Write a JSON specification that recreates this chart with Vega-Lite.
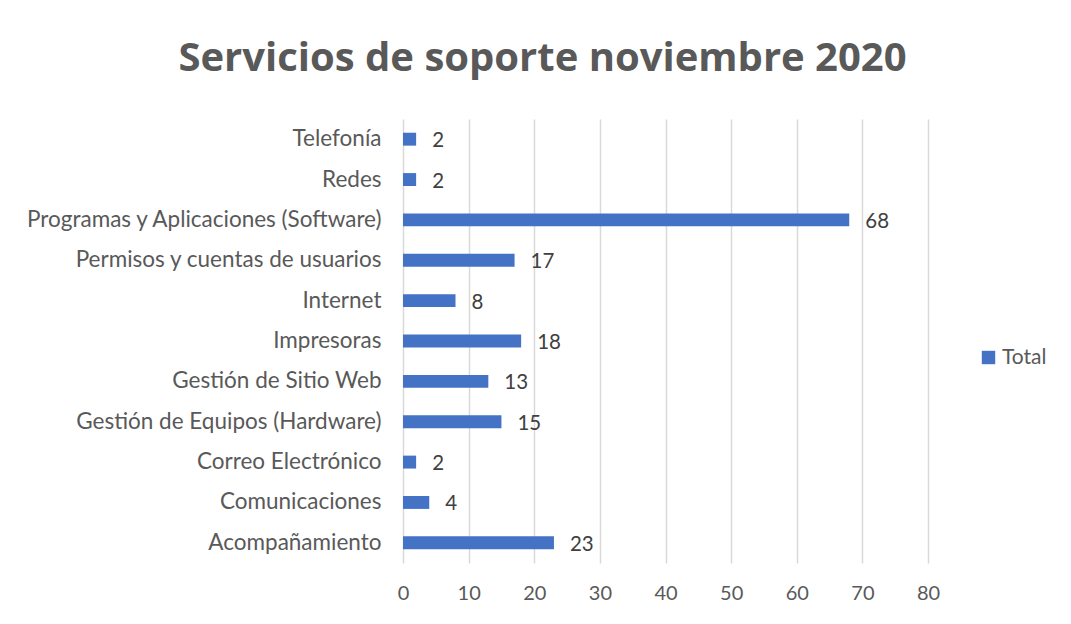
{
  "$schema": "https://vega.github.io/schema/vega-lite/v6.json",
  "width": 525,
  "height": 444,
  "autosize": "none",
  "padding": {"left": 403, "top": 119, "right": 143, "bottom": 61},
  "background": "white",
  "title": {
    "text": "Servicios de soporte noviembre 2020",
    "font": "Open Sans",
    "fontSize": 40,
    "fontWeight": "bold",
    "color": "#595959",
    "anchor": "middle",
    "frame": "group",
    "dx": -123,
    "offset": 40
  },
  "data": {
    "values": [
      {"categoria": "Telefonía", "serie": "Total", "valor": 2},
      {"categoria": "Redes", "serie": "Total", "valor": 2},
      {"categoria": "Programas y Aplicaciones (Software)", "serie": "Total", "valor": 68},
      {"categoria": "Permisos y cuentas de usuarios", "serie": "Total", "valor": 17},
      {"categoria": "Internet", "serie": "Total", "valor": 8},
      {"categoria": "Impresoras", "serie": "Total", "valor": 18},
      {"categoria": "Gestión de Sitio Web", "serie": "Total", "valor": 13},
      {"categoria": "Gestión de Equipos (Hardware)", "serie": "Total", "valor": 15},
      {"categoria": "Correo Electrónico", "serie": "Total", "valor": 2},
      {"categoria": "Comunicaciones", "serie": "Total", "valor": 4},
      {"categoria": "Acompañamiento", "serie": "Total", "valor": 23}
    ]
  },
  "encoding": {
    "y": {
      "field": "categoria",
      "type": "nominal",
      "sort": null,
      "scale": {"paddingInner": 0.68, "paddingOuter": 0.34},
      "axis": {
        "title": null,
        "domain": false,
        "ticks": false,
        "labelFont": "Lato",
        "labelFontSize": 22.5,
        "labelColor": "#595959",
        "labelPadding": 22,
        "labelLimit": 500
      }
    },
    "x": {
      "field": "valor",
      "type": "quantitative",
      "scale": {"domain": [0, 80], "nice": false},
      "axis": {
        "title": null,
        "values": [0, 10, 20, 30, 40, 50, 60, 70, 80],
        "domain": false,
        "ticks": false,
        "grid": true,
        "gridColor": "#d9d9d9",
        "gridWidth": 1.5,
        "labelFlush": false,
        "labelFont": "Lato",
        "labelFontSize": 20,
        "labelColor": "#595959",
        "labelPadding": 20
      }
    }
  },
  "layer": [
    {
      "mark": {"type": "bar", "color": "#4472c4"},
      "encoding": {
        "color": {
          "field": "serie",
          "type": "nominal",
          "scale": {"range": ["#4472c4"]},
          "legend": {
            "title": null,
            "orient": "none",
            "legendX": 575,
            "legendY": 228,
            "symbolType": "square",
            "symbolSize": 180,
            "symbolStrokeWidth": 0,
            "labelFont": "Lato",
            "labelFontSize": 21,
            "labelColor": "#595959",
            "labelOffset": 3
          }
        }
      }
    },
    {
      "mark": {
        "type": "text",
        "align": "left",
        "baseline": "middle",
        "dx": 16,
        "dy": 2,
        "font": "Lato",
        "fontSize": 20.5,
        "color": "#404040"
      },
      "encoding": {"text": {"field": "valor", "type": "quantitative"}}
    }
  ],
  "config": {"view": {"stroke": null}}
}
